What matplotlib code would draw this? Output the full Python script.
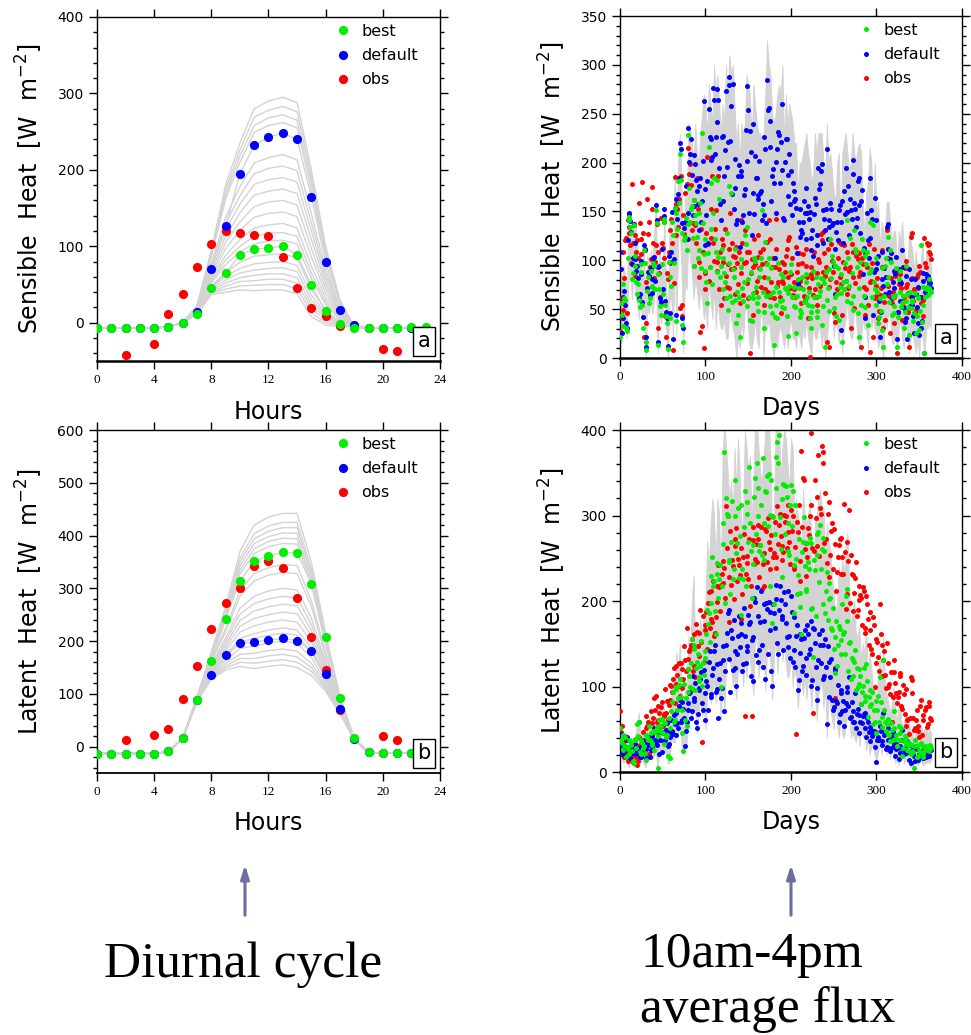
import numpy as np
import matplotlib.pyplot as plt
from matplotlib.ticker import MultipleLocator, NullLocator
from matplotlib.lines import Line2D

# ==========================================
# DIURNAL CYCLE DATA (hours 0-23)
# ==========================================
HOURS = list(range(24))
nan = np.nan

SH_BEST = [-7, -7, -7, -7, -7, -5, 0, 12, 45, 65, 89, 96, 98, 100, 89, 49, 15, -2, -7, -7, -7, -7, -5, -5]
SH_DEFAULT = [-7, -7, -7, -7, -7, -5, 0, 14, 71, 126, 195, 232, 243, 248, 240, 165, 79, 17, -3, -7, -7, -7, -7, -7]
SH_OBS = [nan, nan, -42, nan, -28, 11, 37, 73, 103, 120, 118, 115, 114, 86, 45, 19, 9, -4, nan, nan, -34, -37, nan, nan]

LH_BEST = [-13, -13, -13, -13, -13, -9, 16, 88, 162, 242, 314, 351, 362, 368, 367, 309, 208, 93, 17, -11, -12, -12, -12, -12]
LH_DEFAULT = [-13, -13, -13, -13, -13, -9, 17, 88, 135, 174, 196, 198, 202, 205, 201, 181, 137, 71, 14, -11, -12, -12, -12, -12]
LH_OBS = [nan, nan, 13, nan, 22, 33, 91, 152, 223, 273, 301, 343, 351, 338, 281, 207, 145, 70, nan, nan, 20, 12, nan, nan]

# ensemble members: night hours shared, daytime (hours 7-17) per run
SH_NIGHT_AM = [-7, -7, -7, -7, -7, -5, 0]
SH_NIGHT_PM = [-5, -7, -7, -7, -7, -7]
SH_RUNS_DAY = [
    [11, 37, 40, 43, 42, 43, 43, 38, 8, -3, -5],
    [11, 39, 44, 48, 49, 50, 50, 45, 13, 0, -4],
    [12, 40, 48, 54, 55, 57, 57, 52, 19, 3, -3],
    [12, 42, 52, 59, 62, 64, 64, 59, 24, 6, -2],
    [12, 44, 56, 65, 69, 71, 72, 67, 30, 9, -1],
    [13, 46, 61, 71, 77, 79, 80, 75, 36, 12, 0],
    [13, 48, 66, 79, 87, 89, 90, 85, 44, 16, 2],
    [14, 52, 76, 93, 103, 107, 108, 103, 58, 24, 4],
    [15, 54, 82, 100, 113, 117, 118, 113, 65, 28, 5],
    [15, 57, 88, 109, 124, 128, 130, 124, 74, 33, 7],
    [16, 60, 97, 121, 138, 143, 145, 139, 86, 39, 9],
    [17, 64, 105, 132, 152, 158, 160, 154, 97, 45, 11],
    [17, 67, 113, 144, 167, 172, 175, 169, 109, 51, 13],
    [18, 71, 122, 155, 181, 187, 190, 184, 120, 57, 15],
    [19, 74, 130, 166, 195, 202, 205, 199, 131, 63, 18],
    [19, 78, 138, 178, 209, 216, 220, 213, 143, 69, 20],
    [21, 87, 162, 210, 249, 258, 262, 255, 175, 87, 25],
    [22, 90, 167, 218, 258, 268, 272, 265, 183, 91, 27],
    [22, 92, 173, 226, 269, 278, 283, 276, 191, 95, 28],
    [23, 95, 180, 235, 280, 290, 295, 288, 200, 100, 30],
]

LH_NIGHT_AM = [-13, -13, -13, -13, -13, -10, 16]
LH_NIGHT_PM = [14, -11, -12, -12, -12, -12]
LH_RUNS_DAY = [
    [85, 128, 145, 152, 148, 152, 155, 150, 135, 105, 62],
    [85, 130, 149, 160, 158, 162, 165, 160, 143, 109, 63],
    [86, 132, 153, 167, 167, 172, 175, 170, 150, 113, 64],
    [86, 133, 158, 175, 177, 182, 185, 181, 158, 117, 65],
    [87, 136, 164, 186, 191, 196, 200, 196, 169, 122, 67],
    [87, 139, 170, 198, 205, 211, 215, 211, 180, 128, 69],
    [87, 141, 174, 205, 214, 221, 225, 221, 187, 132, 70],
    [88, 143, 181, 217, 229, 236, 240, 236, 199, 138, 72],
    [88, 146, 187, 228, 243, 250, 255, 252, 210, 143, 73],
    [89, 149, 193, 239, 257, 265, 270, 267, 221, 149, 75],
    [90, 152, 199, 251, 271, 280, 285, 282, 232, 155, 77],
    [90, 154, 206, 262, 285, 295, 300, 297, 244, 161, 79],
    [91, 160, 218, 285, 314, 325, 330, 328, 266, 172, 82],
    [92, 162, 224, 296, 328, 339, 345, 343, 277, 178, 84],
    [93, 170, 241, 327, 366, 379, 385, 384, 307, 193, 88],
    [93, 171, 245, 334, 375, 389, 395, 394, 315, 197, 90],
    [94, 173, 250, 342, 385, 398, 405, 404, 322, 201, 91],
    [94, 175, 254, 350, 394, 408, 415, 415, 330, 205, 92],
    [94, 177, 258, 357, 404, 418, 425, 425, 337, 209, 93],
    [95, 180, 265, 370, 420, 435, 442, 442, 350, 215, 95],
]

# ==========================================
# 10am-4pm DAILY MEAN DATA
# even days 0-364 and odd days 1-363 kept as separate lists
# ==========================================
DAYS = np.arange(0, 365, 2)
DAYS_ODD = np.arange(1, 365, 2)

SHD_DEFAULT = [
    108, 26, 62, 54, 31, 147, 140, 96, 137, 101, 94, 61, 86, 57, 116, 11, 72, 84, 92, 67,
    103, 157, 16, 94, 57, 71, 145, 47, 12, 98, 109, 19, 154, 44, 168, 220, 138, 31, 139, 122,
    235, 209, 187, 156, 199, 171, 131, 184, 161, 263, 116, 181, 255, 224, 206, 264, 226, 275, 194, 141,
    227, 186, 273, 221, 288, 258, 280, 204, 137, 186, 114, 191, 146, 173, 278, 254, 232, 126, 239, 207,
    184, 167, 169, 141, 146, 214, 285, 256, 243, 186, 179, 201, 214, 228, 221, 260, 141, 224, 166, 209,
    191, 179, 161, 154, 76, 124, 131, 139, 148, 174, 156, 149, 111, 104, 164, 126, 194, 178, 199, 151,
    131, 214, 141, 159, 136, 94, 66, 139, 151, 29, 161, 171, 194, 149, 126, 151, 203, 159, 134, 181,
    184, 161, 86, 41, 109, 121, 184, 151, 44, 164, 91, 104, 21, 81, 74, 66, 134, 137, 101, 61,
    89, 86, 19, 91, 79, 111, 51, 41, 19, 91, 81, 54, 26, 66, 36, 24, 31, 79, 5, 86,
    84, 76, 72,
]
SHD_DEFAULT_ODD = [
    91, 41, 69, 36, 121, 148, 129, 102, 118, 89, 82, 66, 99, 42, 111, 22, 88, 64, 81, 102,
    79, 141, 93, 61, 112, 153, 58, 41, 104, 46, 149, 101, 163, 142, 184, 214, 41, 133, 176, 148,
    201, 224, 146, 208, 182, 158, 176, 139, 202, 173, 146, 118, 226, 203, 276, 209, 242, 264, 158, 226,
    161, 213, 196, 279, 222, 168, 152, 174, 141, 198, 186, 139, 167, 233, 202, 148, 211, 169, 147, 184,
    163, 202, 171, 158, 226, 138, 254, 216, 161, 193, 102, 148, 231, 179, 192, 143, 201, 224, 187, 158,
    146, 171, 163, 107, 139, 152, 128, 161, 122, 148, 142, 123, 131, 147, 158, 116, 173, 191, 118, 142,
    153, 122, 134, 152, 138, 112, 129, 121, 157, 139, 118, 147, 149, 176, 163, 142, 188, 152, 143, 157,
    128, 172, 113, 62, 148, 102, 123, 142, 88, 141, 97, 58, 47, 108, 92, 83, 112, 68, 107, 78,
    72, 103, 47, 58, 77, 93, 37, 84, 67, 53, 62, 43, 81, 52, 73, 62, 38, 87, 68, 82,
    79, 77,
]
SHD_BEST = [
    21, 44, 76, 59, 28, 141, 134, 81, 136, 94, 66, 59, 96, 54, 111, 8, 69, 56, 89, 73,
    94, 151, 13, 71, 44, 66, 139, 43, 9, 83, 74, 126, 154, 38, 181, 209, 128, 16, 124, 111,
    228, 139, 156, 94, 146, 124, 111, 159, 230, 106, 89, 56, 216, 179, 76, 184, 109, 182, 163, 94,
    71, 87, 61, 49, 176, 169, 91, 59, 36, 44, 21, 101, 58, 126, 134, 81, 39, 38, 61, 99,
    56, 48, 91, 151, 31, 119, 96, 102, 64, 46, 13, 54, 41, 68, 86, 59, 51, 71, 23, 74,
    96, 62, 53, 26, 81, 49, 46, 71, 58, 86, 54, 41, 31, 89, 62, 48, 76, 69, 34, 81,
    11, 59, 91, 122, 104, 51, 94, 66, 39, 86, 16, 71, 79, 141, 74, 56, 49, 131, 109, 46,
    21, 54, 111, 104, 96, 34, 139, 91, 136, 71, 54, 36, 61, 29, 11, 94, 76, 124, 111, 44,
    46, 64, 11, 81, 89, 56, 31, 94, 66, 24, 51, 59, 46, 26, 61, 29, 116, 54, 5, 71,
    64, 81, 68,
]
SHD_BEST_ODD = [
    56, 33, 61, 31, 102, 144, 128, 87, 104, 78, 76, 52, 88, 31, 97, 16, 83, 61, 74, 97,
    71, 138, 86, 53, 96, 142, 54, 36, 98, 41, 139, 97, 148, 132, 159, 182, 34, 121, 143, 137,
    174, 152, 123, 162, 138, 102, 148, 92, 138, 122, 78, 107, 93, 132, 148, 122, 88, 103, 83, 112,
    102, 78, 128, 97, 63, 57, 83, 112, 68, 62, 93, 72, 78, 117, 53, 62, 88, 67, 102, 73,
    62, 83, 102, 68, 47, 63, 82, 53, 92, 68, 42, 73, 97, 58, 52, 83, 72, 43, 67, 88,
    62, 73, 52, 63, 72, 42, 83, 57, 78, 62, 68, 47, 53, 62, 83, 42, 63, 82, 53, 77,
    88, 72, 48, 82, 98, 62, 43, 92, 73, 67, 78, 97, 58, 102, 123, 87, 63, 112, 93, 72,
    98, 122, 63, 52, 108, 87, 88, 62, 78, 102, 68, 42, 48, 92, 63, 102, 83, 57, 98, 62,
    53, 92, 42, 68, 52, 63, 47, 58, 52, 68, 57, 38, 67, 43, 62, 48, 37, 73, 62, 73,
    72, 70,
]
SHD_OBS = [
    28, 41, 49, 121, 46, 134, 116, 178, 136, 84, 121, 159, 106, 180, 21, 36, 163, 139, 101, 175,
    82, 116, 31, 87, 143, 113, 139, 22, 81, 131, 142, 8, 185, 126, 134, 51, 54, 146, 169, 178,
    215, 199, 131, 94, 136, 184, 83, 27, 33, 10, 71, 206, 79, 123, 186, 99, 151, 89, 71, 54,
    116, 61, 84, 96, 72, 91, 104, 66, 114, 76, 56, 141, 64, 131, 109, 61, 5, 101, 44, 96,
    79, 126, 109, 96, 54, 71, 119, 141, 62, 93, 61, 142, 74, 91, 46, 79, 96, 104, 121, 124,
    86, 64, 71, 114, 96, 79, 56, 106, 59, 94, 41, 1, 86, 64, 71, 54, 101, 74, 121, 129,
    84, 16, 11, 81, 99, 46, 94, 71, 119, 76, 44, 116, 79, 66, 89, 31, 109, 51, 104, 101,
    84, 11, 96, 44, 71, 54, 6, 79, 21, 61, 74, 41, 64, 111, 31, 39, 131, 74, 26, 56,
    36, 84, 5, 76, 86, 39, 61, 99, 76, 11, 124, 128, 71, 49, 86, 94, 56, 59, 123, 93,
    116, 109, 101,
]
SHD_OBS_ODD = [
    61, 108, 82, 123, 141, 128, 97, 118, 126, 108, 102, 138, 122, 128, 112, 78, 127, 93, 152, 118,
    98, 137, 108, 62, 118, 102, 43, 87, 108, 97, 118, 77, 158, 152, 163, 186, 43, 127, 138, 122,
    188, 177, 138, 162, 118, 152, 98, 132, 108, 87, 128, 117, 93, 152, 118, 132, 98, 186, 108, 122,
    98, 132, 73, 112, 148, 118, 92, 103, 97, 108, 87, 118, 97, 98, 77, 108, 87, 93, 122, 68,
    103, 92, 73, 112, 83, 97, 68, 122, 78, 102, 93, 112, 78, 62, 98, 77, 88, 112, 83, 72,
    102, 78, 62, 88, 107, 73, 97, 63, 112, 83, 72, 93, 82, 108, 62, 87, 98, 127, 88, 107,
    93, 112, 73, 117, 88, 37, 78, 102, 83, 117, 98, 92, 108, 72, 93, 117, 83, 77, 108, 107,
    88, 102, 73, 107, 93, 117, 78, 97, 112, 63, 82, 48, 72, 93, 57, 83, 102, 63, 82, 68,
    62, 88, 47, 78, 72, 53, 92, 73, 47, 63, 82, 58, 47, 83, 72, 88, 62, 43, 97, 118,
    117, 106,
]
SHD_ENS_HI = [
    115, 70, 95, 85, 60, 150, 145, 115, 140, 140, 120, 90, 110, 75, 120, 50, 105, 95, 110, 100,
    130, 160, 60, 120, 80, 100, 150, 70, 50, 140, 130, 100, 190, 140, 200, 230, 180, 80, 170, 150,
    240, 235, 220, 200, 240, 210, 200, 230, 250, 270, 260, 230, 280, 260, 240, 300, 270, 290, 260, 230,
    260, 240, 300, 270, 310, 290, 300, 260, 220, 240, 200, 240, 230, 240, 290, 280, 270, 220, 280, 260,
    240, 230, 230, 220, 230, 270, 325, 300, 290, 250, 240, 250, 270, 280, 270, 300, 220, 270, 240, 260,
    250, 240, 220, 220, 170, 200, 200, 210, 220, 230, 210, 200, 180, 190, 230, 210, 230, 230, 230, 200,
    190, 240, 200, 210, 190, 170, 160, 200, 210, 130, 210, 220, 230, 210, 190, 200, 230, 210, 200, 215,
    220, 210, 160, 120, 170, 180, 215, 200, 140, 200, 150, 160, 110, 140, 130, 130, 160, 160, 140, 120,
    130, 130, 90, 130, 120, 140, 110, 100, 80, 130, 120, 110, 90, 110, 90, 80, 100, 120, 60, 110,
    110, 100, 95,
]
SHD_ENS_LO = [
    20, 15, 40, 35, 20, 80, 85, 60, 85, 65, 55, 40, 60, 40, 60, 0, 50, 45, 60, 45,
    60, 90, 5, 50, 35, 45, 90, 30, 0, 60, 60, 20, 100, 25, 120, 130, 90, 5, 80, 70,
    120, 100, 90, 60, 80, 70, 50, 70, 60, 40, 50, 30, 80, 60, 40, 70, 30, 60, 40, 30,
    30, 40, 20, 20, 50, 40, 30, 20, 0, 20, 10, 40, 20, 50, 50, 30, 10, 10, 20, 40,
    20, 10, 40, 50, 0, 40, 30, 40, 20, 10, 0, 20, 10, 30, 30, 20, 10, 30, 10, 30,
    40, 20, 20, 10, 30, 20, 10, 30, 20, 40, 20, 10, 0, 40, 20, 20, 30, 30, 10, 30,
    0, 20, 40, 50, 50, 20, 40, 30, 15, 35, 5, 30, 40, 60, 30, 20, 20, 60, 40, 20,
    10, 20, 40, 30, 30, 10, 50, 30, 40, 30, 25, 10, 20, 10, 0, 40, 30, 50, 40, 15,
    15, 25, 0, 30, 40, 20, 10, 40, 25, 5, 20, 25, 15, 5, 20, 0, 40, 20, 0, 30,
    30, 35, 30,
]

LHD_DEFAULT = [
    45, 21, 34, 26, 41, 19, 16, 31, 24, 21, 22, 59, 18, 31, 24, 16, 34, 41, 26, 29,
    51, 34, 46, 21, 54, 46, 36, 49, 31, 41, 61, 44, 56, 69, 51, 84, 61, 74, 31, 59,
    81, 94, 71, 86, 104, 51, 96, 109, 81, 119, 61, 101, 129, 91, 114, 141, 94, 126, 109, 86,
    131, 71, 149, 186, 189, 166, 119, 141, 101, 159, 146, 174, 126, 159, 141, 184, 176, 154, 106, 199,
    216, 129, 176, 149, 196, 109, 191, 199, 166, 101, 186, 219, 151, 189, 201, 179, 211, 174, 146, 159,
    206, 129, 181, 159, 96, 139, 156, 124, 166, 114, 161, 144, 101, 169, 151, 84, 131, 149, 166, 109,
    156, 56, 129, 111, 84, 76, 119, 81, 59, 96, 71, 54, 81, 99, 111, 64, 71, 59, 51, 74,
    46, 79, 66, 69, 41, 59, 36, 49, 46, 29, 12, 41, 54, 36, 69, 46, 29, 51, 24, 41,
    31, 19, 36, 15, 31, 49, 21, 24, 36, 14, 10, 26, 19, 31, 14, 21, 24, 16, 19, 18,
    22, 19, 26,
]
LHD_DEFAULT_ODD = [
    32, 23, 42, 18, 37, 27, 28, 22, 33, 27, 28, 17, 23, 37, 22, 27, 32, 18, 42, 33,
    38, 32, 48, 37, 23, 47, 38, 57, 33, 47, 48, 67, 43, 57, 77, 58, 82, 63, 48, 72,
    92, 63, 112, 83, 58, 68, 98, 117, 73, 92, 107, 73, 142, 88, 122, 148, 97, 63, 127, 98,
    147, 118, 163, 132, 93, 157, 178, 122, 138, 182, 162, 118, 192, 128, 147, 173, 112, 158, 203, 137,
    182, 143, 212, 123, 177, 198, 138, 187, 118, 197, 168, 202, 138, 217, 183, 143, 197, 158, 212, 133,
    187, 143, 123, 172, 108, 162, 118, 157, 133, 172, 138, 177, 108, 167, 123, 98, 162, 128, 148, 112,
    123, 147, 88, 132, 73, 122, 83, 102, 68, 92, 83, 72, 93, 77, 63, 82, 58, 92, 68, 67,
    58, 57, 68, 52, 63, 47, 53, 42, 48, 47, 38, 37, 48, 32, 43, 27, 38, 37, 28, 47,
    33, 27, 28, 22, 38, 27, 28, 22, 23, 32, 23, 22, 13, 27, 18, 17, 20, 16, 23, 22,
    20, 26,
]
LHD_BEST = [
    51, 34, 26, 41, 29, 21, 36, 24, 11, 39, 56, 59, 21, 34, 31, 14, 41, 54, 46, 34,
    26, 49, 5, 61, 54, 46, 59, 41, 19, 16, 71, 94, 61, 99, 86, 109, 46, 24, 61, 54,
    121, 99, 156, 144, 96, 129, 111, 124, 101, 114, 141, 189, 186, 229, 251, 224, 161, 244, 226, 99,
    291, 374, 321, 299, 246, 269, 226, 299, 256, 309, 276, 184, 226, 329, 316, 269, 291, 204, 266, 344,
    361, 299, 266, 254, 291, 329, 346, 349, 301, 174, 196, 369, 386, 394, 261, 319, 336, 334, 291, 254,
    336, 329, 186, 249, 231, 209, 161, 269, 241, 214, 246, 274, 191, 134, 236, 254, 281, 289, 261, 274,
    186, 234, 221, 204, 166, 144, 116, 124, 171, 154, 196, 164, 206, 214, 151, 109, 131, 129, 96, 99,
    121, 79, 101, 89, 126, 64, 96, 79, 56, 59, 46, 89, 111, 64, 131, 59, 56, 44, 36, 49,
    71, 39, 31, 54, 46, 19, 36, 39, 26, 34, 21, 24, 5, 31, 19, 26, 34, 21, 24, 31,
    26, 29, 28,
]
LHD_BEST_ODD = [
    37, 43, 32, 18, 27, 38, 32, 13, 37, 28, 42, 23, 37, 28, 22, 43, 37, 38, 32, 48,
    47, 53, 42, 48, 62, 33, 57, 43, 63, 52, 82, 58, 97, 73, 102, 88, 72, 103, 87, 93,
    112, 128, 97, 148, 122, 138, 107, 153, 127, 133, 162, 173, 152, 198, 217, 188, 232, 203, 242, 218,
    267, 198, 302, 248, 208, 317, 238, 342, 268, 227, 312, 238, 287, 218, 302, 357, 258, 243, 322, 278,
    332, 258, 312, 367, 248, 327, 288, 218, 342, 298, 278, 332, 362, 298, 228, 337, 278, 322, 258, 312,
    288, 242, 312, 208, 272, 193, 257, 298, 212, 268, 237, 268, 192, 248, 182, 278, 222, 238, 197, 258,
    212, 178, 202, 168, 192, 158, 177, 148, 167, 138, 162, 138, 177, 118, 152, 133, 112, 143, 122, 103,
    112, 93, 122, 83, 107, 88, 77, 93, 72, 83, 72, 58, 82, 53, 72, 48, 62, 43, 57, 38,
    52, 43, 37, 38, 52, 28, 42, 33, 32, 23, 32, 23, 37, 18, 32, 23, 32, 18, 27, 28,
    25, 32,
]
LHD_OBS = [
    71, 54, 26, 18, 21, 29, 16, 19, 11, 24, 8, 41, 19, 36, 24, 66, 54, 21, 71, 44,
    86, 89, 61, 69, 76, 54, 66, 69, 61, 84, 101, 109, 81, 124, 101, 89, 121, 109, 131, 169,
    121, 144, 156, 124, 111, 164, 136, 189, 35, 129, 166, 144, 211, 179, 176, 159, 181, 199, 216, 219,
    221, 239, 311, 299, 176, 219, 241, 264, 286, 249, 231, 179, 251, 66, 244, 226, 194, 66, 271, 249,
    246, 289, 266, 214, 256, 284, 246, 269, 261, 299, 256, 239, 311, 289, 276, 264, 301, 299, 281, 269,
    306, 299, 241, 44, 281, 224, 376, 344, 261, 229, 286, 299, 396, 69, 341, 264, 371, 309, 381, 374,
    326, 244, 316, 254, 291, 284, 86, 234, 266, 274, 251, 314, 191, 269, 306, 254, 231, 209, 246, 189,
    201, 204, 216, 169, 206, 179, 166, 144, 181, 99, 156, 134, 196, 149, 131, 114, 151, 99, 91, 59,
    131, 104, 81, 94, 116, 74, 91, 54, 61, 44, 111, 108, 49, 61, 54, 41, 84, 61, 29, 76,
    56, 77, 61,
]
LHD_OBS_ODD = [
    47, 23, 18, 37, 13, 27, 22, 12, 28, 18, 13, 32, 23, 47, 33, 52, 58, 38, 57, 63,
    72, 58, 77, 53, 82, 68, 97, 83, 78, 102, 93, 122, 103, 113, 128, 127, 98, 147, 118, 132,
    142, 148, 118, 162, 173, 147, 163, 152, 183, 172, 187, 198, 168, 212, 223, 163, 217, 242, 188, 232,
    247, 203, 262, 228, 282, 248, 202, 272, 223, 242, 262, 208, 278, 232, 253, 272, 218, 287, 243, 267,
    272, 228, 287, 243, 218, 282, 297, 238, 277, 252, 292, 252, 267, 302, 248, 257, 292, 262, 312, 243,
    282, 238, 263, 292, 312, 247, 287, 342, 268, 252, 277, 312, 262, 258, 297, 322, 253, 302, 362, 268,
    272, 302, 228, 282, 238, 267, 212, 252, 273, 232, 232, 257, 208, 247, 198, 232, 188, 227, 183, 217,
    207, 172, 212, 163, 197, 148, 187, 138, 172, 128, 152, 118, 162, 112, 142, 98, 127, 103, 117, 88,
    117, 92, 88, 112, 77, 102, 68, 97, 62, 63, 92, 63, 52, 72, 48, 77, 43, 67, 72, 53,
    82, 63,
]
LHD_ENS_HI = [
    60, 45, 40, 45, 45, 35, 40, 40, 30, 45, 55, 70, 35, 50, 45, 40, 55, 65, 55, 50,
    60, 65, 50, 75, 75, 70, 75, 65, 55, 50, 90, 110, 100, 140, 120, 150, 100, 70, 100, 100,
    160, 130, 200, 230, 150, 170, 160, 180, 160, 190, 200, 270, 240, 290, 320, 300, 240, 320, 300, 220,
    370, 410, 380, 350, 320, 340, 300, 380, 330, 390, 350, 280, 300, 400, 380, 350, 370, 290, 340, 410,
    410, 380, 350, 340, 370, 400, 410, 410, 370, 270, 300, 410, 410, 410, 340, 380, 400, 390, 360, 330,
    390, 380, 280, 320, 300, 290, 250, 330, 300, 290, 300, 320, 260, 220, 290, 300, 320, 330, 310, 310,
    250, 290, 270, 260, 230, 210, 180, 200, 240, 220, 250, 230, 270, 280, 220, 170, 190, 200, 160, 160,
    170, 130, 150, 140, 170, 110, 140, 120, 100, 100, 80, 120, 140, 100, 160, 100, 90, 80, 70, 80,
    100, 70, 60, 80, 75, 50, 60, 65, 55, 60, 45, 50, 30, 55, 45, 50, 55, 45, 50, 50,
    45, 50, 45,
]
LHD_ENS_LO = [
    25, 15, 10, 15, 12, 5, 10, 10, 5, 15, 5, 20, 10, 15, 10, 5, 15, 25, 15, 15,
    20, 20, 5, 20, 25, 20, 25, 20, 10, 10, 40, 35, 35, 55, 45, 60, 30, 20, 25, 35,
    70, 70, 60, 75, 70, 45, 70, 85, 65, 80, 50, 90, 100, 80, 90, 110, 80, 100, 90, 60,
    110, 70, 120, 140, 130, 120, 100, 110, 85, 120, 120, 130, 100, 130, 110, 140, 130, 110, 90, 150,
    160, 110, 130, 120, 140, 95, 140, 150, 125, 85, 130, 160, 115, 140, 150, 130, 150, 125, 110, 115,
    140, 100, 120, 110, 75, 100, 110, 90, 110, 85, 110, 100, 75, 110, 100, 60, 90, 100, 110, 75,
    100, 40, 90, 75, 60, 50, 80, 55, 40, 65, 45, 40, 55, 65, 70, 40, 45, 40, 35, 50,
    30, 50, 40, 45, 25, 40, 20, 30, 30, 20, 10, 25, 35, 20, 45, 30, 20, 30, 15, 25,
    20, 10, 20, 8, 20, 30, 10, 15, 20, 8, 5, 15, 5, 15, 8, 10, 15, 8, 10, 10,
    12, 10, 15,
]

# ==========================================
# STYLE
# ==========================================
GREEN, BLUE, RED, GREY = '#00ee00', '#0000ff', '#ff0000', '#d3d3d3'
SANS = 'DejaVu Sans'
SERIF = 'Liberation Serif'
YLABEL_SH = 'Sensible  Heat  [W  m$^{-2}$]'
YLABEL_LH = 'Latent  Heat  [W  m$^{-2}$]'


def style_axes(ax, ylim, ymajor, yminor, xlim, xmajor, xlabel, ylabel, tag, bottom_lw):
    ax.set_xlim(*xlim)
    ax.set_ylim(*ylim)
    ax.xaxis.set_major_locator(MultipleLocator(xmajor))
    ax.xaxis.set_minor_locator(NullLocator())
    ax.yaxis.set_major_locator(MultipleLocator(ymajor))
    ax.yaxis.set_minor_locator(MultipleLocator(yminor))
    ax.tick_params(which='both', direction='out', top=True, right=True, width=1)
    ax.tick_params(which='major', length=6)
    ax.tick_params(which='minor', length=3)
    ax.tick_params(axis='y', which='major', labelsize=10)
    for lab in ax.get_xticklabels():
        lab.set_fontfamily(SERIF)
        lab.set_fontsize(9.5)
    for sp in ax.spines.values():
        sp.set_linewidth(1.0)
    ax.spines['bottom'].set_linewidth(bottom_lw)
    ax.set_xlabel(xlabel, fontsize=17, family=SANS)
    ax.set_ylabel(ylabel, fontsize=17, family=SANS)
    ax.xaxis.set_label_coords(0.5, -0.112)
    ax.yaxis.set_label_coords(-0.153, 0.5)
    ax.text(0.972, 0.028, tag, transform=ax.transAxes, ha='right', va='bottom',
            fontsize=15, family=SANS, zorder=10,
            bbox=dict(boxstyle='square,pad=0.22', fc='white', ec='black', lw=1))


def add_legend(ax, ms):
    handles = [Line2D([], [], ls='none', marker='o', ms=ms, mew=0, color=c, label=l)
               for c, l in [(GREEN, 'best'), (BLUE, 'default'), (RED, 'obs')]]
    ax.legend(handles=handles, loc='upper left', bbox_to_anchor=(0.7, 0.98), frameon=False,
              fontsize=11.5, handlelength=0.8, handletextpad=0.7, labelspacing=0.58,
              borderpad=0, borderaxespad=0)


def diurnal_panel(ax, night_am, night_pm, runs, best, default, obs, ylim, ylabel, tag, bottom_lw):
    for run in runs:
        ax.plot(HOURS, night_am + run + night_pm, color=GREY, lw=1.0, zorder=1)
    ax.plot(HOURS, best, color=GREY, lw=1.0, zorder=1)
    ax.plot(HOURS, default, color=GREY, lw=1.0, zorder=1)
    ax.plot(HOURS, obs, ls='none', marker='o', ms=6.6, mew=0, color=RED, zorder=3)
    ax.plot(HOURS, default, ls='none', marker='o', ms=6.6, mew=0, color=BLUE, zorder=4)
    ax.plot(HOURS, best, ls='none', marker='o', ms=6.6, mew=0, color=GREEN, zorder=5)
    style_axes(ax, ylim, 100, 20, (0, 24), 4, 'Hours', ylabel, tag, bottom_lw)
    add_legend(ax, 6.6)


def daily_panel(ax, lo, hi, series, ylim, ymajor, yminor, ylabel, tag):
    ax.fill_between(DAYS, lo, hi, color=GREY, lw=0.6, edgecolor=GREY, zorder=1)
    # series: (colour, even-day values, odd-day values), drawn obs -> default -> best
    for z, (color, even, odd) in enumerate(series):
        ax.plot(DAYS, even, ls='none', marker='o', ms=3.6, mew=0, color=color, zorder=3 + z)
        ax.plot(DAYS_ODD, odd, ls='none', marker='o', ms=3.6, mew=0, color=color, zorder=3 + z)
    style_axes(ax, ylim, ymajor, yminor, (0, 400), 100, 'Days', ylabel, tag, 1.8)
    add_legend(ax, 3.6)


fig = plt.figure(figsize=(9.71, 10.35), dpi=100)

ax1 = fig.add_axes([0.0999, 0.6512, 0.3532, 0.3324])
ax2 = fig.add_axes([0.0999, 0.2531, 0.3532, 0.3314])
ax3 = fig.add_axes([0.6385, 0.6541, 0.3522, 0.3304])
ax4 = fig.add_axes([0.6385, 0.2541, 0.3522, 0.3304])

diurnal_panel(ax1, SH_NIGHT_AM, SH_NIGHT_PM, SH_RUNS_DAY, SH_BEST, SH_DEFAULT, SH_OBS,
              (-50, 400), YLABEL_SH, 'a', 1.8)
diurnal_panel(ax2, LH_NIGHT_AM, LH_NIGHT_PM, LH_RUNS_DAY, LH_BEST, LH_DEFAULT, LH_OBS,
              (-50, 600), YLABEL_LH, 'b', 1.3)
daily_panel(ax3, SHD_ENS_LO, SHD_ENS_HI,
            [(RED, SHD_OBS, SHD_OBS_ODD), (BLUE, SHD_DEFAULT, SHD_DEFAULT_ODD), (GREEN, SHD_BEST, SHD_BEST_ODD)],
            (0, 350), 50, 10, YLABEL_SH, 'a')
daily_panel(ax4, LHD_ENS_LO, LHD_ENS_HI,
            [(RED, LHD_OBS, LHD_OBS_ODD), (BLUE, LHD_DEFAULT, LHD_DEFAULT_ODD), (GREEN, LHD_BEST, LHD_BEST_ODD)],
            (0, 400), 100, 20, YLABEL_LH, 'b')

# annotation arrows and captions underneath
ARROW_COLOR = '#6b6e9f'
for x in [245, 791]:
    fig.add_artist(plt.Annotation('', xy=(x / 971, 1 - 862 / 1035), xytext=(x / 971, 1 - 918 / 1035),
                                  xycoords='figure fraction', textcoords='figure fraction',
                                  arrowprops=dict(arrowstyle='-|>,head_length=0.8,head_width=0.25',
                                                  color=ARROW_COLOR, lw=2.2)))
fig.text(243 / 971, 1 - 965 / 1035, 'Diurnal cycle', ha='center', va='center',
         family=SERIF, fontsize=37)
fig.text(640 / 971, 1 - 955 / 1035, '10am-4pm', ha='left', va='center',
         family=SERIF, fontsize=37)
fig.text(640 / 971, 1 - 1010 / 1035, 'average flux', ha='left', va='center',
         family=SERIF, fontsize=37)

fig.savefig('out.png', dpi=100)
